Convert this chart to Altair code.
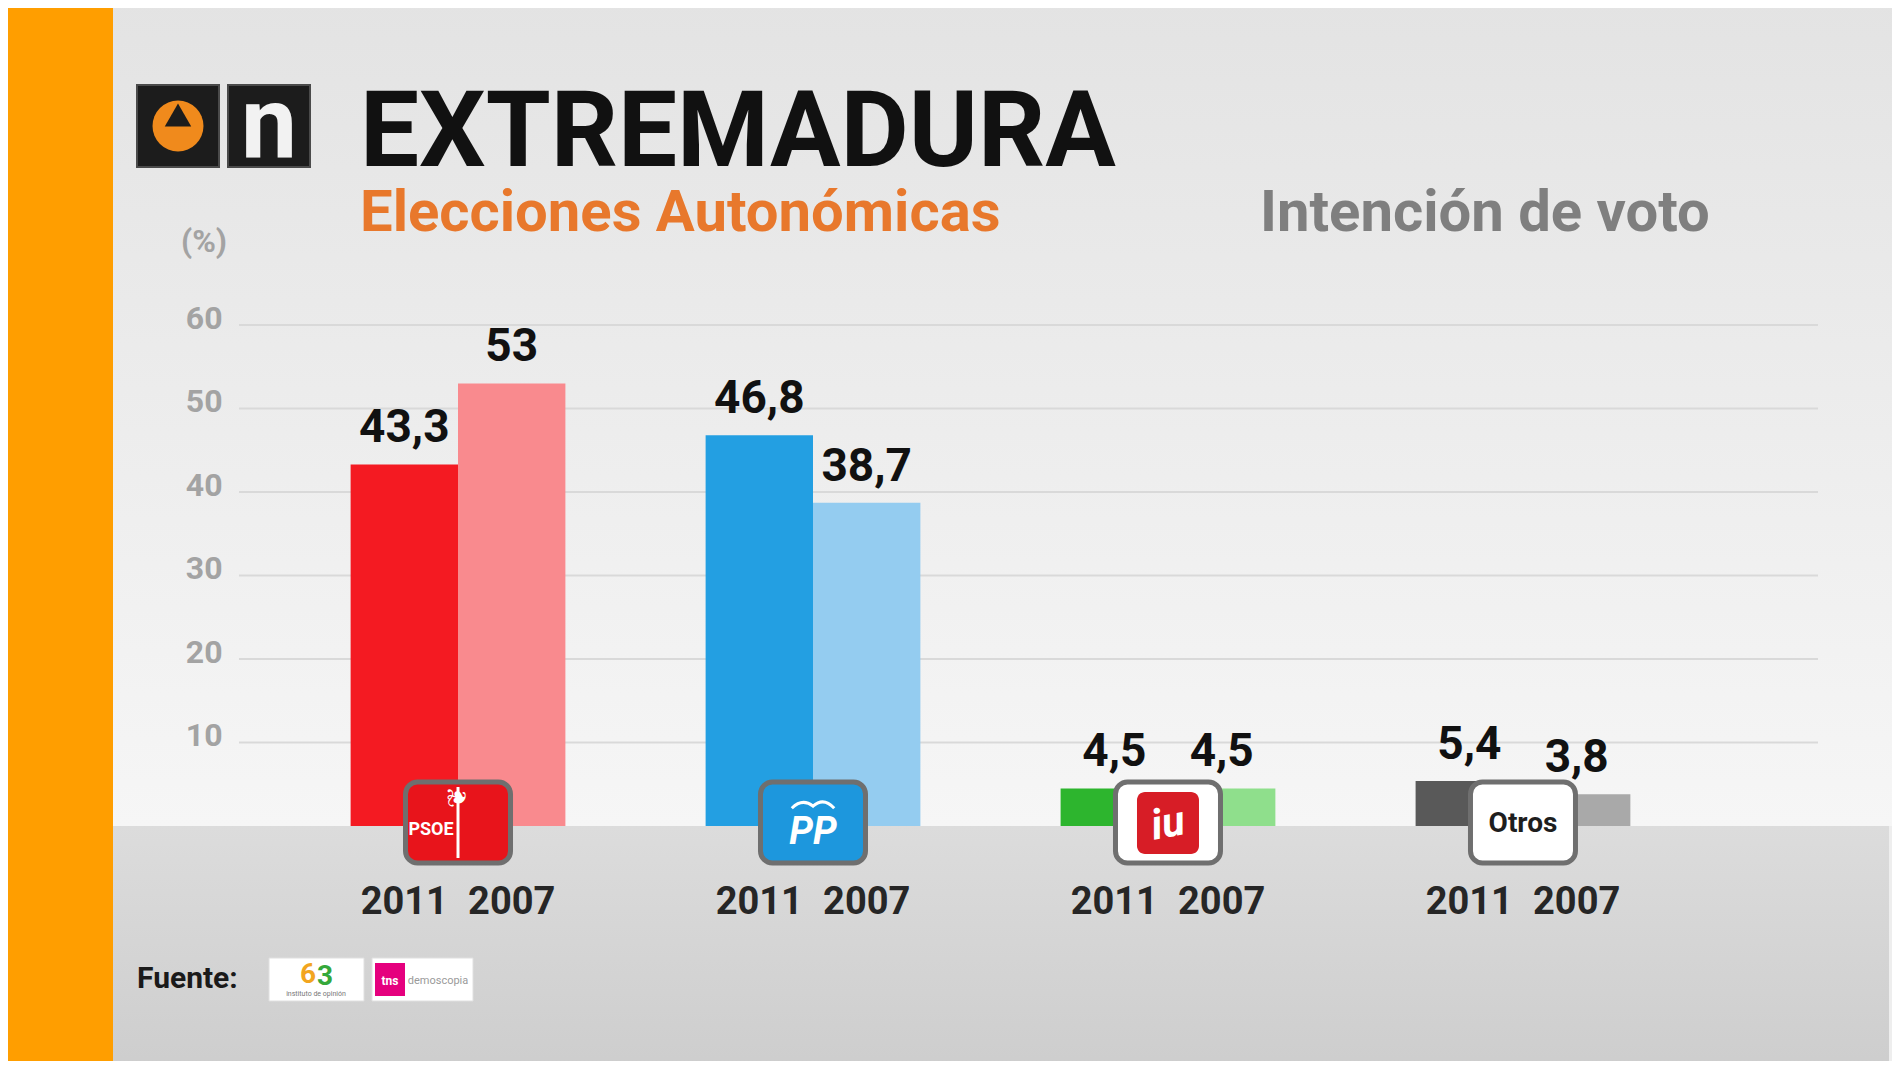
import altair as alt
import pandas as pd

# ---------------- data ----------------
parties = ["PSOE", "PP", "IU", "Otros"]
years = ["2011", "2007"]
votes_2011 = [43.3, 46.8, 4.5, 5.4]
votes_2007 = [53, 38.7, 4.5, 3.8]
bar_keys = [f"{p} {y}" for p in parties for y in years]
bar_colors = ["#f41a22", "#f98a8e", "#239fe2", "#94ccf0",
              "#2db52e", "#8fdf8c", "#595959", "#a9a9a9"]
y_ticks = [10, 20, 30, 40, 50, 60]
logo_fills = ["#e8141b", "#1d97dd", "#ffffff", "#ffffff"]

rows = []
for p, a, b in zip(parties, votes_2011, votes_2007):
    rows.append({"party": p, "year": "2011", "value": a})
    rows.append({"party": p, "year": "2007", "value": b})
df = pd.DataFrame(rows)
df["key"] = df["party"] + " " + df["year"]
grid_df = pd.DataFrame({"value": y_ticks})
logo_df = pd.DataFrame({"party": parties, "lfill": logo_fills})
dummy = pd.DataFrame({"d": [0]})

W, H = 1579, 501
FONT = "Roboto"

x_enc = alt.X("party:N", sort=parties,
              scale=alt.Scale(paddingInner=0.395, paddingOuter=0.4215, align=0.373),
              axis=None)
xoff = alt.XOffset("year:N", sort=years, scale=alt.Scale(paddingInner=0, paddingOuter=0))
y_enc = alt.Y("value:Q", scale=alt.Scale(domain=[0, 60], nice=False),
              axis=alt.Axis(values=y_ticks, grid=False, domain=False, ticks=False,
                            labelFontSize=32, labelColor="#a3a3a3", labelFont=FONT,
                            labelFontWeight="bold", labelPadding=17, labelOffset=-7,
                            title=None, zindex=1))

def grad(c1, c2):
    return alt.LinearGradient(gradient="linear",
                              stops=[alt.GradientStop(color=c1, offset=0),
                                     alt.GradientStop(color=c2, offset=1)],
                              x1=0, x2=0, y1=0, y2=1)

def drect(x, x2, y, y2, **kw):
    return alt.Chart(dummy).mark_rect(**kw).encode(
        x=alt.value(x), x2=alt.value(x2), y=alt.value(y), y2=alt.value(y2))

def dtext(txt, x, y, **kw):
    return alt.Chart(dummy).mark_text(font=FONT, **kw).encode(
        x=alt.value(x), y=alt.value(y), text=alt.value(txt))

# ---------------- background ----------------
bg_upper = drect(-130, 1665, -330, H, color=grad("#e3e3e3", "#f6f6f6"))
floor = drect(-126, 1650, H, 750, color=grad("#dcdcdc", "#cdcdcd"))
orange = drect(-240, -126, -330, 750, color="#ff9e00")

gridlines = alt.Chart(grid_df).mark_rule(color="#d9d9d9", strokeWidth=2).encode(
    y=y_enc, x=alt.value(0), x2=alt.value(W))

# ---------------- bars ----------------
bars = alt.Chart(df).mark_bar().encode(
    x=x_enc, xOffset=xoff, y=y_enc,
    color=alt.Color("key:N", scale=alt.Scale(domain=bar_keys, range=bar_colors), legend=None))

values = alt.Chart(df).transform_calculate(
    label="replace(toString(datum.value), '.', ',')"
).mark_text(font=FONT, fontWeight="bold", fontSize=46, color="#111111",
            baseline="bottom", dy=-12).encode(
    x=x_enc, xOffset=xoff, y=y_enc, text="label:N")

year_lbl = alt.Chart(df).mark_text(font=FONT, fontWeight="bold", fontSize=38,
                                   color="#262626", baseline="middle").encode(
    x=x_enc, xOffset=xoff, y=alt.value(578), text="year:N")

# ---------------- party logos ----------------
logo_box = alt.Chart(logo_df).mark_bar(size=105, cornerRadius=12, stroke="#6f6f6f",
                                       strokeWidth=5).encode(
    x=x_enc, y=alt.value(457), y2=alt.value(538),
    color=alt.Color("lfill:N", scale=None))

def ltext(party, txt, y=499, font=FONT, **kw):
    return alt.Chart(logo_df).transform_filter(
        alt.datum.party == party).mark_text(font=font, fontWeight="bold",
                                            baseline="middle", **kw).encode(
        x=x_enc, y=alt.value(y), text=alt.value(txt))

psoe_line = alt.Chart(logo_df).transform_filter(alt.datum.party == "PSOE").mark_bar(
    size=3, color="#ffffff").encode(x=x_enc, y=alt.value(462), y2=alt.value(533))
psoe_txt = ltext("PSOE", "PSOE", y=505, fontSize=18, color="#ffffff", dx=-27)
psoe_icon = ltext("PSOE", "❦", y=497, fontSize=26, color="#ffffff", font="DejaVu Sans",
                  dx=25, angle=270)
pp_txt = ltext("PP", "PP", y=508, fontSize=38, color="#ffffff", fontStyle="italic")
pp_bird = alt.Chart(logo_df).transform_filter(alt.datum.party == "PP").mark_point(
    shape="M -1 0.25 Q -0.5 -0.25 0 0.15 Q 0.5 -0.3 1 0.25", filled=False,
    stroke="#ffffff", strokeWidth=3, size=1800, opacity=1).encode(
    x=x_enc, y=alt.value(478))
iu_sq = alt.Chart(logo_df).transform_filter(alt.datum.party == "IU").mark_bar(
    size=62, cornerRadius=8, color="#d71d26").encode(
    x=x_enc, y=alt.value(467), y2=alt.value(529))
iu_txt = ltext("IU", "iu", fontSize=42, color="#ffffff", fontStyle="italic", angle=350)
otros_txt = ltext("Otros", "Otros", fontSize=28, color="#1e1e1e")

# ---------------- titles and decoration ----------------
title = dtext("EXTREMADURA", 121, -159, fontSize=105, fontWeight="bold",
              color="#111111", align="left", baseline="alphabetic")
subtitle = dtext("Elecciones Autonómicas", 121, -94, fontSize=58, fontWeight="bold",
                 color="#e8782c", align="left", baseline="alphabetic")
right_title = dtext("Intención de voto", 1021, -94, fontSize=58, fontWeight="bold",
                    color="#7f7f7f", align="left", baseline="alphabetic")
pct = dtext("(%)", -35, -83, fontSize=32, fontWeight="bold", color="#a3a3a3",
            align="center", baseline="middle")

logo1 = drect(-102, -20, -240, -158, color="#1c1c1c", stroke="#4a4a4a", strokeWidth=2)
logo2 = drect(-11, 71, -240, -158, color="#1c1c1c", stroke="#4a4a4a", strokeWidth=2)
a3_circle = alt.Chart(dummy).mark_point(shape="circle", filled=True, size=2600,
                                        color="#f08a1c", opacity=1).encode(
    x=alt.value(-61), y=alt.value(-199))
a3_tri = alt.Chart(dummy).mark_point(shape="triangle-up", filled=True, size=700,
                                     color="#1c1c1c", opacity=1).encode(
    x=alt.value(-61), y=alt.value(-210))
n_txt = dtext("n", 30, -168, fontSize=100, fontWeight="bold", color="#f2f2f2",
              align="center", baseline="alphabetic")

fuente = dtext("Fuente:", -102, 654, fontSize=30, fontWeight="bold", color="#1a1a1a",
               align="left", baseline="middle")
src1 = drect(30, 125, 633, 676, color="#ffffff", stroke="#e0e0e0", strokeWidth=1)
src2 = drect(133, 234, 633, 676, color="#ffffff", stroke="#e0e0e0", strokeWidth=1)
src1_6 = dtext("6", 69, 650, fontSize=28, fontWeight="bold", color="#f2a51f",
               align="center", baseline="middle")
src1_3 = dtext("3", 86, 652, fontSize=28, fontWeight="bold", color="#35a83a",
               align="center", baseline="middle")
src1_sub = dtext("instituto de opinión", 77, 669, fontSize=7, color="#777777",
                 align="center", baseline="middle")
tns_sq = drect(136, 166, 638, 671, color="#e5007e")
tns_txt = dtext("tns", 151, 656, fontSize=12, fontWeight="bold", color="#ffffff",
                align="center", baseline="middle")
tns_sub = dtext("demoscopia", 199, 656, fontSize=11, color="#9a9a9a",
                align="center", baseline="middle")

chart = alt.layer(
    bg_upper, floor, orange, gridlines, bars, values,
    logo_box, psoe_line, psoe_txt, psoe_icon, pp_txt, pp_bird, iu_sq, iu_txt, otros_txt,
    year_lbl, title, subtitle, right_title, pct,
    logo1, logo2, a3_circle, a3_tri, n_txt,
    fuente, src1, src2, src1_6, src1_3, src1_sub, tns_sq, tns_txt, tns_sub,
).properties(
    width=W, height=H,
    autosize=alt.AutoSizeParams(type="none"),
    padding={"left": 231, "top": 317, "right": 74, "bottom": 235},
    background="#eeeeee",
).configure_view(stroke=None)

chart.save("out.html", embed_options={"renderer": "svg", "actions": False})
